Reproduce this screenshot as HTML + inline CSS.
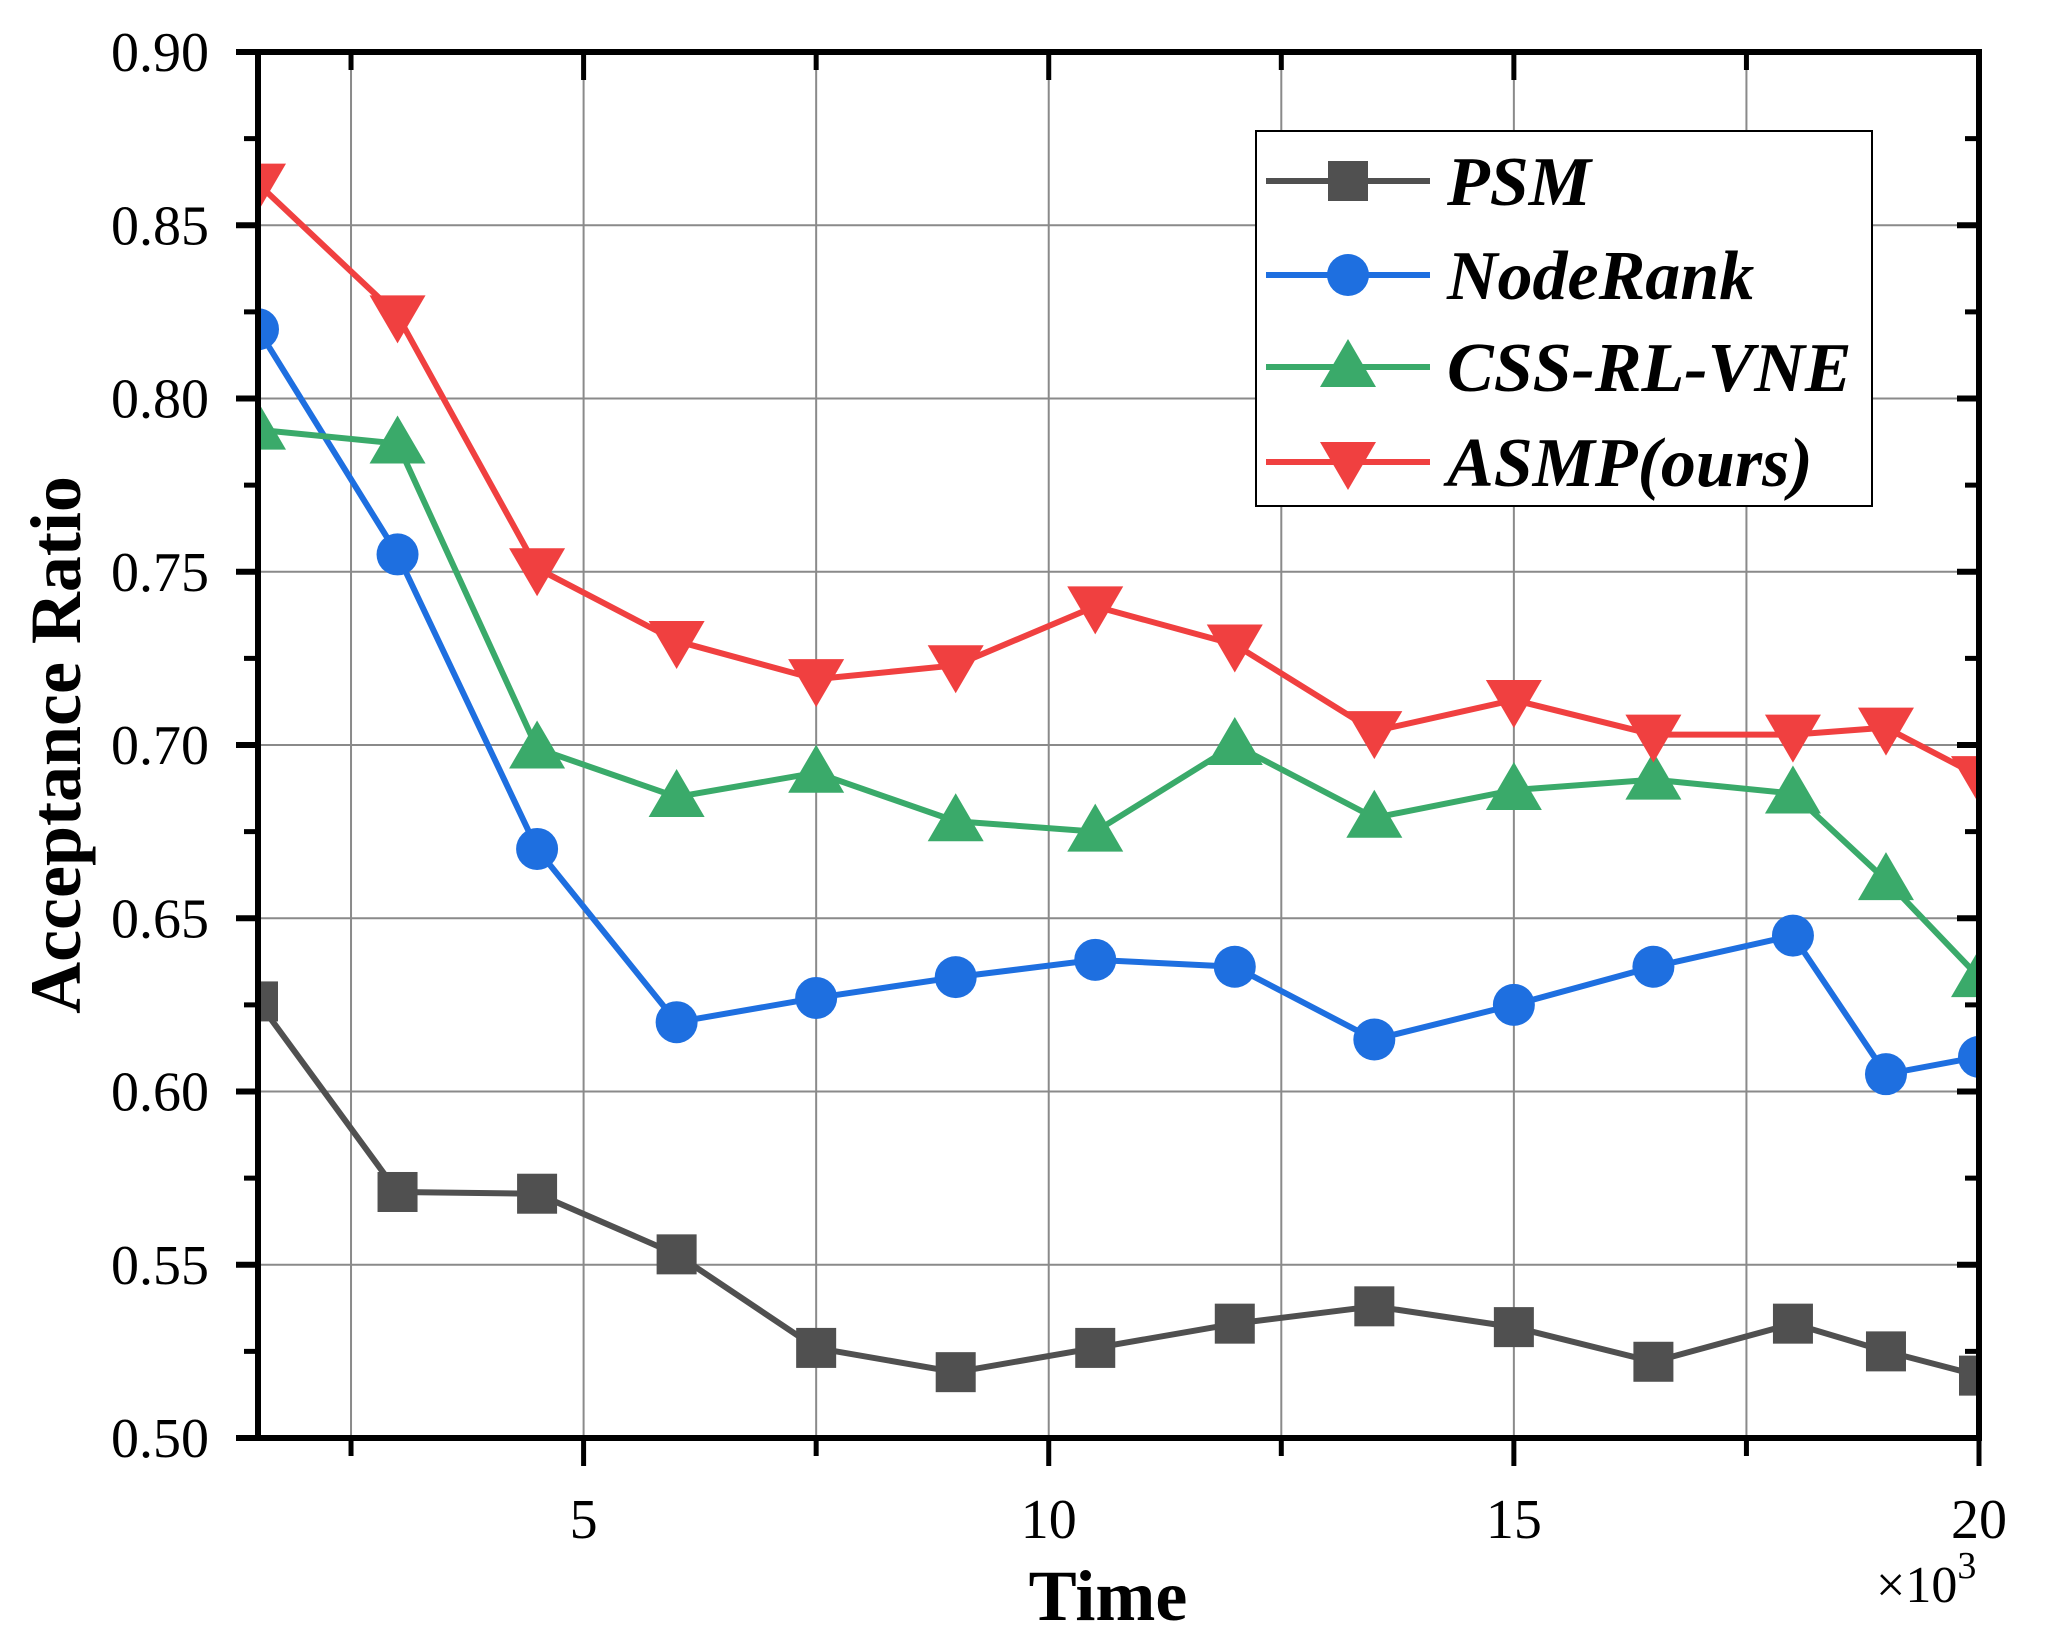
<!DOCTYPE html>
<html><head><meta charset="utf-8"><style>
html,body{margin:0;padding:0;background:#fff;}
svg{display:block;font-family:"Liberation Serif",serif;}
</style></head><body>
<svg id="chart" width="2046" height="1652" viewBox="0 0 2046 1652" xmlns="http://www.w3.org/2000/svg">
<defs><clipPath id="clip"><rect x="258" y="52" width="1721" height="1386"/></clipPath></defs>
<g id="grid"></g>
<g id="series" clip-path="url(#clip)"></g>
<g id="axes"></g>
<text x="0" y="0" transform="translate(80,745) rotate(-90)" text-anchor="middle" font-size="72" font-weight="bold">Acceptance Ratio</text>
<text x="1108" y="1620" text-anchor="middle" font-size="72" font-weight="bold">Time</text>
<text x="1876" y="1602" font-size="52">×10<tspan dy="-24" font-size="38">3</tspan></text>
<g id="legend"></g>
</svg>
<script>
const xValues=[1.5,3,4.5,6,7.5,9,10.5,12,13.5,15,16.5,18,19,20];
const psm=[0.626,0.571,0.5705,0.553,0.526,0.519,0.526,0.533,0.538,0.532,0.522,0.533,0.525,0.518];
const nodeRank=[0.820,0.755,0.670,0.620,0.627,0.633,0.638,0.636,0.615,0.625,0.636,0.645,0.605,0.610];
const cssRl=[0.791,0.787,0.699,0.685,0.692,0.678,0.675,0.700,0.679,0.687,0.690,0.686,0.661,0.633];
const asmp=[0.862,0.824,0.751,0.730,0.719,0.723,0.740,0.729,0.704,0.713,0.703,0.703,0.705,0.691];
const yTicks=[0.50,0.55,0.60,0.65,0.70,0.75,0.80,0.85,0.90];
const xTicks=[5,10,15,20];
const xMinor=[2.5,7.5,12.5,17.5];
const seriesNames=["PSM","NodeRank","CSS-RL-VNE","ASMP(ours)"];

const L=258,R=1979,T=52,B=1438,XMIN=1.5,XMAX=20,YMIN=0.5,YMAX=0.9;
const sx=v=>L+(v-XMIN)/(XMAX-XMIN)*(R-L);
const sy=v=>B-(v-YMIN)/(YMAX-YMIN)*(B-T);
const NS="http://www.w3.org/2000/svg";
function mk(tag,attrs,parent){const e=document.createElementNS(NS,tag);for(const k in attrs)e.setAttribute(k,attrs[k]);parent.appendChild(e);return e;}
const grid=document.getElementById('grid'),axes=document.getElementById('axes'),ser=document.getElementById('series'),leg=document.getElementById('legend');

yTicks.forEach(t=>{const y=sy(t);
 const g=mk('line',{x1:L,x2:R,y1:y,y2:y,stroke:'#8a8a8a','stroke-width':2},grid);
 
 
 const tk=mk('line',{x1:L-22,x2:L,y1:y,y2:y,stroke:'#000','stroke-width':6},axes);
 
 
 const tr=mk('line',{x1:R,x2:R-22,y1:y,y2:y,stroke:'#000','stroke-width':6},axes);
 
 
 const lb=mk('text',{x:209,y:y+19,'text-anchor':'end','font-size':56},axes);
 lb.textContent=t.toFixed(2);
 
 
});
[0.525,0.575,0.625,0.675,0.725,0.775,0.825,0.875].forEach(t=>{const y=sy(t);
 const a=mk('line',{x1:L-14,x2:L,y1:y,y2:y,stroke:'#000','stroke-width':5},axes);
 
 
 const b=mk('line',{x1:R,x2:R-14,y1:y,y2:y,stroke:'#000','stroke-width':5},axes);
 
 
});
xMinor.concat(xTicks).forEach(t=>{const x=sx(t);const major=xTicks.includes(t);
 const g=mk('line',{x1:x,x2:x,y1:T,y2:B,stroke:'#8a8a8a','stroke-width':2},grid);
 
 
 const tk=mk('line',{x1:x,x2:x,y1:B,y2:B+(major?28:18),stroke:'#000','stroke-width':5},axes);
 
 
 const tt=mk('line',{x1:x,x2:x,y1:T,y2:T+(major?28:18),stroke:'#000','stroke-width':5},axes);
 
 
 if(major){const lb=mk('text',{x:x,y:1538,'text-anchor':'middle','font-size':56},axes);
  lb.textContent=String(t);
  
  }
});
const frame=mk('rect',{x:L,y:T,width:R-L,height:B-T,fill:'none',stroke:'#000','stroke-width':6},axes);



function marker(type,x,y,color,parent){
 let e;
 if(type==='square') e=mk('rect',{x:x-20,y:y-20,width:40,height:40,fill:color},parent);
 else if(type==='circle') e=mk('circle',{cx:x,cy:y,r:21,fill:color},parent);
 else if(type==='up') e=mk('polygon',{points:`${x},${y-28} ${x-28},${y+20} ${x+28},${y+20}`,fill:color},parent);
 else e=mk('polygon',{points:`${x},${y+28} ${x-28},${y-20} ${x+28},${y-20}`,fill:color},parent);
 return e;
}
const allSeries=[psm,nodeRank,cssRl,asmp];
const colors=['#505050','#1e6fe0','#3aaa6a','#f04040'];
const types=['square','circle','up','down'];
allSeries.forEach((vals,i)=>{
 const g=mk('g',{},ser);
 
 
 const pl=mk('polyline',{points:vals.map((v,j)=>sx(xValues[j])+','+sy(v)).join(' '),fill:'none',stroke:colors[i],'stroke-width':6,'stroke-linejoin':'round'},g);
 
 
 vals.forEach((v,j)=>{const m=marker(types[i],sx(xValues[j]),sy(v),colors[i],g);
  
  });
});
const lbox=mk('rect',{x:1256,y:131,width:616,height:375,fill:'#fff',stroke:'#000','stroke-width':2},leg);


[181,275,367,462].forEach((y,i)=>{
 const g=mk('g',{},leg);
 
 
 mk('line',{x1:1266,x2:1430,y1:y,y2:y,stroke:colors[i],'stroke-width':6},g);
 marker(types[i],1348,y,colors[i],g);
 const t=mk('text',{x:1447,y:y+24,'font-size':70,'font-weight':'bold','font-style':'italic'},g);
 t.textContent=seriesNames[i];
});
</script>
</body></html>
